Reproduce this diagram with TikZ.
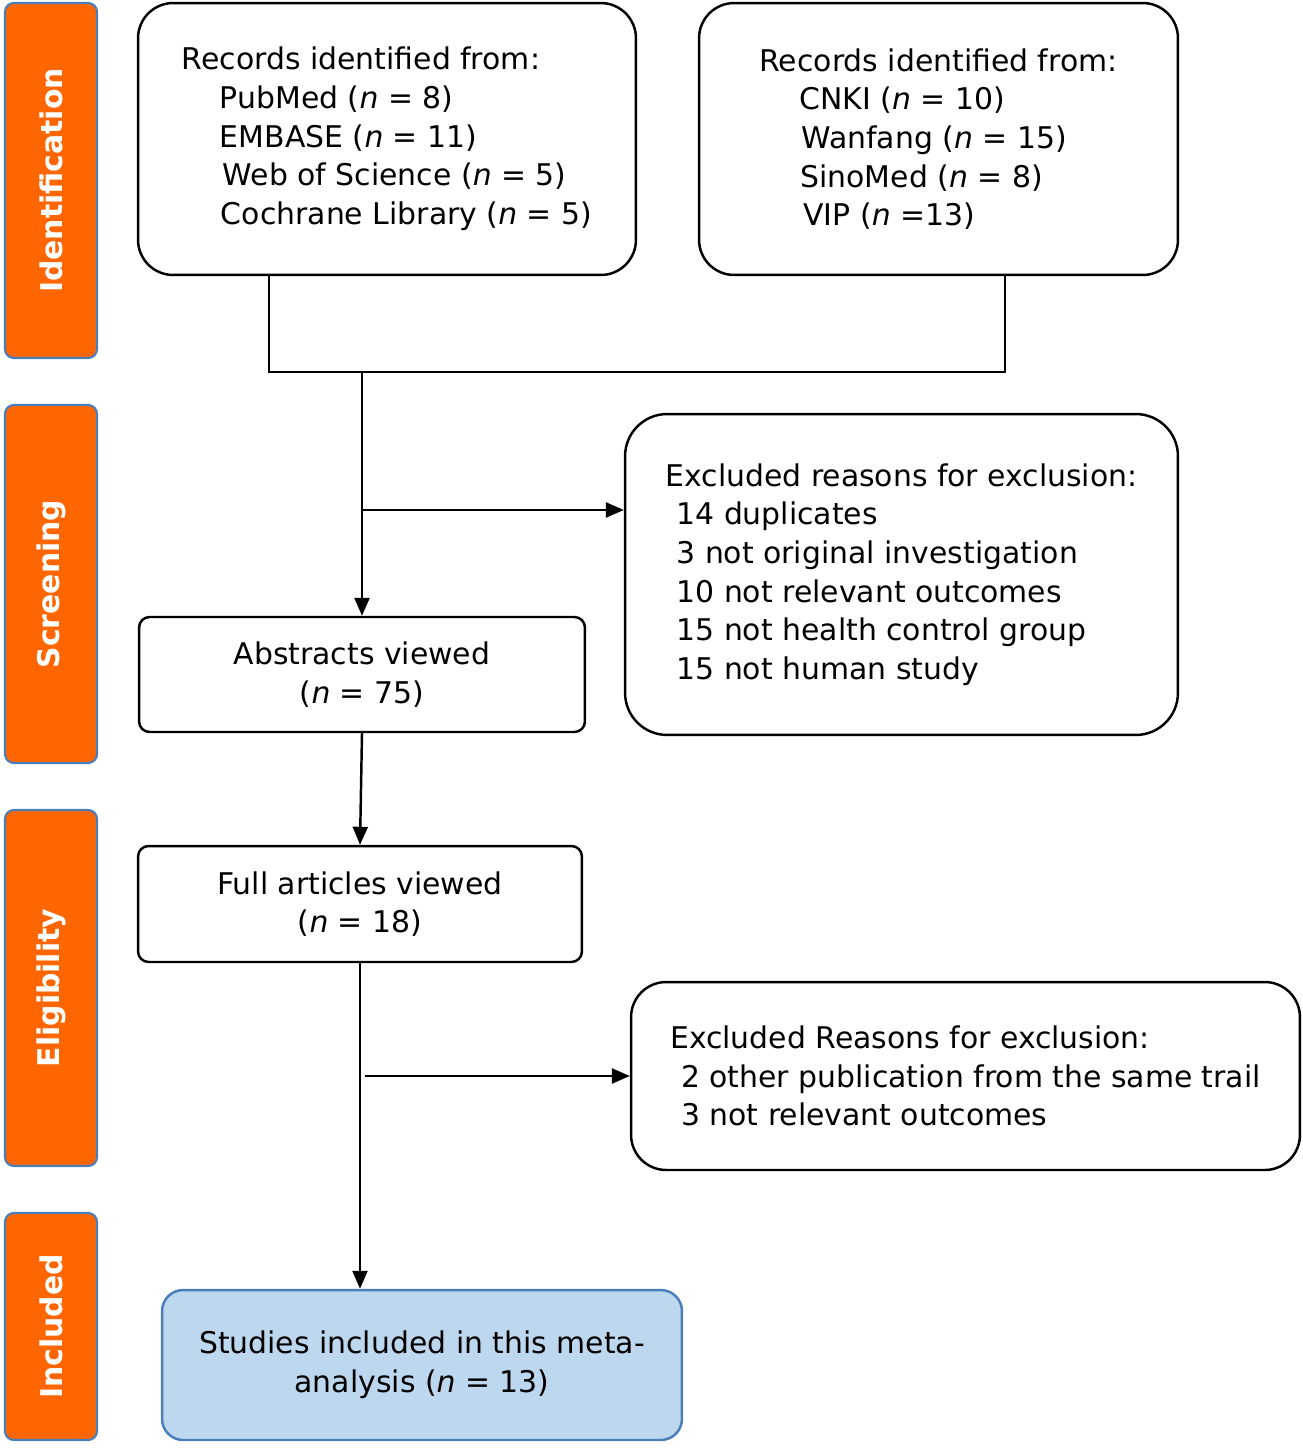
\documentclass[tikz,border=0pt]{standalone}
\usepackage{fontspec}
\setmainfont{DejaVu Sans}
\usetikzlibrary{arrows.meta}
\definecolor{barorange}{HTML}{FF6600}
\definecolor{barblue}{HTML}{4A7EBB}
\definecolor{inclfill}{HTML}{BDD7EE}
\tikzset{
  stage/.style={rectangle, draw=barblue, line width=1.2pt, fill=barorange, rounded corners=5pt,
    minimum height=1.84cm, text=white, font=\fontsize{17}{21}\selectfont\bfseries, rotate=90},
  bigbox/.style={rectangle, draw, line width=1.4pt, rounded corners=20pt, align=left,
    font=\fontsize{17}{22}\selectfont},
  smallbox/.style={rectangle, draw, line width=1.4pt, rounded corners=6pt, align=center,
    font=\fontsize{17}{22}\selectfont},
  flow/.style={line width=1.4pt},
  arrow/.style={flow, -{Triangle[length=0.36cm,width=0.3cm]}}
}
\newcommand{\nn}{\textit{n}}
\begin{document}
\begin{tikzpicture}[x=0.02cm,y=-0.02cm]
\useasboundingbox (0,0) rectangle (1302,1454);

%Stages
\node (stId) at (51,180.5) [stage, minimum width=7.1cm]{Identification};
\node (stSc) at (51,584) [stage, minimum width=7.16cm]{Screening};
\node (stEl) at (51,988) [stage, minimum width=7.12cm]{Eligibility};
\node (stIn) at (51,1326.5) [stage, minimum width=4.54cm]{Included};

%Boxes
\node (recA) at (387,139) [bigbox, minimum width=9.96cm, minimum height=5.44cm]
  {Records identified from:\\
  \hspace*{0.76cm}PubMed (\nn{} = 8)\\
  \hspace*{0.76cm}EMBASE (\nn{} = 11)\\
  \hspace*{0.82cm}Web of Science (\nn{} = 5)\\
  \hspace*{0.78cm}Cochrane Library (\nn{} = 5)};
\node (recB) at (938.5,139) [bigbox, minimum width=9.58cm, minimum height=5.44cm]
  {Records identified from:\\
  \hspace*{0.8cm}CNKI (\nn{} = 10)\\
  \hspace*{0.84cm}Wanfang (\nn{} = 15)\\
  \hspace*{0.82cm}SinoMed (\nn{} = 8)\\
  \hspace*{0.88cm}VIP (\nn{} =13)};
\node (exclA) at (901.5,574.5) [bigbox, rounded corners=24pt, minimum width=11.06cm,
  minimum height=6.42cm]{Excluded reasons for exclusion:\\
  \hspace*{0.22cm}14 duplicates\\
  \hspace*{0.22cm}3 not original investigation\\
  \hspace*{0.22cm}10 not relevant outcomes\\
  \hspace*{0.22cm}15 not health control group\\
  \hspace*{0.22cm}15 not human study};
\node (abst) at (362,674.5) [smallbox, minimum width=8.92cm, minimum height=2.3cm]
  {Abstracts viewed\\(\nn{} = 75)};
\node (full) at (360,904) [smallbox, minimum width=8.88cm, minimum height=2.32cm]
  {Full articles viewed\\(\nn{} = 18)};
\node (exclB) at (965.5,1076) [bigbox, minimum width=13.38cm, minimum height=3.76cm]
  {Excluded Reasons for exclusion:\\
  \hspace*{0.22cm}2 other publication from the same trail\\
  \hspace*{0.22cm}3 not relevant outcomes};
\node (incl) at (422,1365) [smallbox, draw=barblue, fill=inclfill, rounded corners=12pt,
  minimum width=10.4cm, minimum height=3cm]{Studies included in this meta-\\analysis (\nn{} = 13)};

%Links
\coordinate (mergeL) at (269,372);
\coordinate (mergeR) at (1005,372);
\coordinate (mergeM) at (362,372);
\coordinate (forkA) at (362,510);
\coordinate (forkB) at (365,1076);
\draw[flow] (mergeL |- recA.south) -- (mergeL) -- (mergeR) -- (mergeR |- recB.south);
\draw[arrow] (mergeM) -- (abst.north);
\draw[arrow] (forkA) -- (forkA -| exclA.west);
\draw[arrow] (abst.south) -- (full.north);
\draw[arrow] (full.south) -- (full.south |- incl.north);
\draw[arrow] (forkB) -- (exclB.west);

\end{tikzpicture}
\end{document}
